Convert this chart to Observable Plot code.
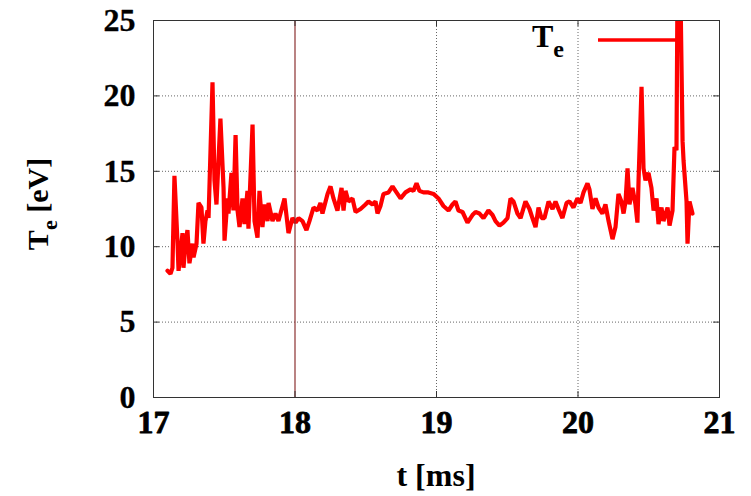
<!DOCTYPE html>
<html><head><meta charset="utf-8">
<script src="https://cdn.jsdelivr.net/npm/d3@7"></script>
<script src="https://cdn.jsdelivr.net/npm/@observablehq/plot@0.6"></script>
<style>
html,body{margin:0;padding:0;background:#fff;}
svg text, svg tspan{font-family:"Liberation Serif","Times New Roman",serif !important;font-weight:700 !important;}
</style>
</head><body><div id="chart"></div>
<script>
// time in ms
const tValues = [
17.099,17.120,17.134,17.148,17.170,17.177,17.205,17.212,17.226,17.240,
17.254,17.276,17.283,17.304,17.318,17.339,17.353,17.367,17.382,17.389,
17.417,17.431,17.445,17.473,17.495,17.502,17.523,17.530,17.551,17.565,
17.580,17.594,17.608,17.629,17.643,17.664,17.671,17.700,17.714,17.735,
17.749,17.770,17.784,17.806,17.813,17.841,17.862,17.883,17.926,17.954,
17.982,18.004,18.025,18.053,18.081,18.102,18.131,18.159,18.180,18.194,
18.230,18.251,18.272,18.300,18.329,18.343,18.357,18.378,18.406,18.428,
18.463,18.498,18.519,18.548,18.569,18.583,18.604,18.625,18.661,18.689,
18.710,18.746,18.781,18.816,18.837,18.859,18.880,18.908,18.943,18.979,
19.014,19.049,19.085,19.113,19.134,19.155,19.184,19.219,19.254,19.276,
19.304,19.332,19.367,19.396,19.417,19.445,19.473,19.502,19.523,19.544,
19.572,19.594,19.629,19.657,19.678,19.700,19.721,19.742,19.763,19.792,
19.820,19.841,19.862,19.890,19.919,19.940,19.968,19.996,20.018,20.039,
20.067,20.081,20.102,20.124,20.145,20.173,20.194,20.216,20.244,20.265,
20.286,20.307,20.322,20.336,20.350,20.364,20.385,20.406,20.420,20.428,
20.449,20.463,20.477,20.498,20.519,20.534,20.555,20.569,20.590,20.604,
20.633,20.647,20.668,20.682,20.696,20.703,20.724,20.739,20.746,20.767,
20.774,20.788,20.809
];
// electron temperature in eV
const teValues = [
8.4,8.2,8.6,14.7,10.2,8.4,10.9,8.6,10.2,11.1,
8.9,10.2,9.3,10.2,12.9,12.6,10.2,11.7,12.4,11.9,
20.9,14.4,12.8,18.5,13.9,10.4,13.2,12.2,14.9,12.4,
17.4,12.4,11.3,13.2,11.5,13.7,11.2,18.1,11.7,10.6,
13.7,11.3,12.8,11.7,12.9,11.7,12.2,11.7,13.2,10.9,
11.9,11.6,11.9,11.7,11.1,11.7,12.6,12.4,12.9,12.2,
13.5,14.0,13.2,12.4,13.9,12.4,13.7,13.0,13.2,12.3,
12.5,12.8,13.0,12.8,13.0,12.2,12.7,13.5,13.6,14.0,
13.7,13.2,13.6,13.8,13.7,14.2,13.7,13.6,13.6,13.5,
13.2,12.7,12.4,12.8,13.0,12.4,12.3,11.6,12.1,12.3,
12.2,11.9,12.4,12.1,11.7,11.4,11.6,11.9,13.2,13.0,
12.2,11.9,13.0,12.5,11.9,11.3,12.6,11.9,11.9,13.0,
12.5,13.0,12.5,11.9,12.9,13.0,12.6,13.2,12.9,13.6,
14.2,13.8,12.5,13.2,12.6,12.2,12.8,11.7,10.5,11.3,
13.5,13.0,12.2,13.0,15.2,12.8,13.9,12.8,11.6,14.4,
20.6,15.2,14.4,14.9,13.9,12.4,13.2,11.5,12.6,11.7,
12.6,11.4,12.4,16.6,16.4,27.0,27.0,17.0,15.7,13.0,
10.2,13.0,12.2
];
const xTicks = [17,18,19,20,21];
const yTicks = [0,5,10,15,20,25];
const xGrid = [19,20];
const yGrid = [5,10,15,20];
const markerT = [18];
const xDomain = [17,21];
const yDomain = [0,25];

const data = tValues.map((t,i)=>({t, Te: teValues[i]}));
const W=751, H=496, mL=153, mR=32, mT=20, mB=99;
const innerW = W-mL-mR, innerH = H-mT-mB;
const font = "Liberation Serif";

const plot = Plot.plot({
  width: W, height: H, marginLeft: mL, marginRight: mR, marginTop: mT, marginBottom: mB,
  style: {fontFamily: font, fontWeight: "bold", background: "white", color: "black", overflow: "visible"},
  x: {domain: xDomain, axis: null},
  y: {domain: yDomain, axis: null},
  marks: [
    Plot.ruleX(xGrid, {stroke:"#666", strokeDasharray:"1,2"}),
    Plot.ruleY(yGrid, {stroke:"#666", strokeDasharray:"1,2"}),
    Plot.line(data, {x:"t", y:"Te", stroke:"#ff0000", strokeWidth:4.2, strokeLinejoin:"miter", clip:true}),
    Plot.ruleX(markerT, {stroke:"#8b3030", strokeWidth:1.2}),
    Plot.tickX(xTicks, {x:d=>d, insetTop: innerH-6, stroke:"#333"}),
    Plot.tickX(xTicks, {x:d=>d, insetBottom: innerH-6, stroke:"#333"}),
    Plot.tickY(yTicks, {y:d=>d, insetRight: innerW-6, stroke:"#333"}),
    Plot.tickY(yTicks, {y:d=>d, insetLeft: innerW-6, stroke:"#333"}),
    Plot.frame({stroke:"#333"}),
    Plot.text(xTicks, {x:d=>d, text:d=>String(d), frameAnchor:"bottom", lineAnchor:"top", dy:13, fontSize:32, fontWeight:"bold", fontFamily:font, fill:"black", stroke:"black", strokeWidth:0.8}),
    Plot.text(yTicks, {y:d=>d, text:d=>String(d), frameAnchor:"left", textAnchor:"end", dx:-18, fontSize:32, fontWeight:"bold", fontFamily:font, fill:"black", stroke:"black", strokeWidth:0.3})
  ]
});
document.getElementById("chart").appendChild(plot);

const svg = d3.select(plot);
// y-axis label
const yl = svg.append("text")
  .attr("transform", "translate(48,204) rotate(-90)")
  .attr("text-anchor","middle")
  .style("font-size","30px").attr("fill","black");
yl.append("tspan").text("T");
yl.append("tspan").attr("dy", 9).style("font-size","22px").text("e");
yl.append("tspan").attr("dy", -9).text(" [eV]");
// x-axis label
svg.append("text")
  .attr("x", (mL + W - mR)/2).attr("y", 486)
  .attr("text-anchor","middle")
  .style("font-size","32px").attr("fill","black")
  .text("t [ms]");
// legend
const lg = svg.append("text").attr("x", 548).attr("y", 47)
  .style("font-size","32px").attr("fill","black");
lg.append("tspan").text("T");
lg.append("tspan").attr("dy", 10).style("font-size","24px").text("e");
svg.append("line").attr("x1", 598).attr("x2", 677).attr("y1", 40).attr("y2", 40)
  .attr("stroke", "#ff0000").attr("stroke-width", 3.5);
</script>
</body></html>
